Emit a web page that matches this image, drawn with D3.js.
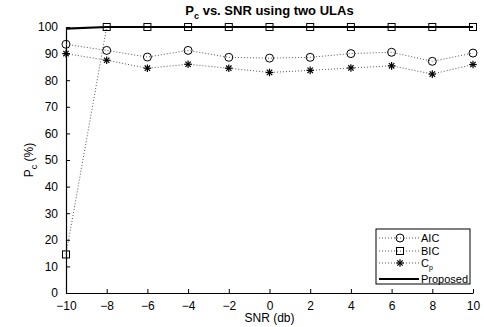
<!DOCTYPE html>
<html>
<head>
<meta charset="utf-8">
<script src="https://cdn.jsdelivr.net/npm/d3@7"></script>
<style>
  body { margin: 0; background: #fff; }
  text { font-family: "Liberation Sans", Arial, sans-serif; }
</style>
</head>
<body>
<div id="chart"></div>
<script>
var width = 484;
var height = 327;
var margin = {top: 27, right: 11, bottom: 34, left: 66};

var snr = [-10, -8, -6, -4, -2, 0, 2, 4, 6, 8, 10];
var aic = [93.5, 91.2, 88.7, 91.2, 88.6, 88.3, 88.6, 90.0, 90.5, 87.1, 90.2];
var bic = [14.5, 100, 100, 100, 100, 100, 100, 100, 100, 100, 100];
var cp = [90.0, 87.5, 84.5, 86.0, 84.5, 82.9, 83.7, 84.6, 85.4, 82.3, 85.9];
var proposed = [99.4, 100, 100, 100, 100, 100, 100, 100, 100, 100, 100];
var xTicks = [-10, -8, -6, -4, -2, 0, 2, 4, 6, 8, 10];
var yTicks = [0, 10, 20, 30, 40, 50, 60, 70, 80, 90, 100];

var svg = d3.select("#chart").append("svg")
  .attr("width", width)
  .attr("height", height);

var x = d3.scaleLinear().domain([-10, 10]).range([margin.left, width - margin.right]);
var y = d3.scaleLinear().domain([0, 100]).range([height - margin.bottom, margin.top]);

// axes, ticks pointing inward like matlab
svg.append("g")
  .attr("transform", "translate(0," + y(0) + ")")
  .call(d3.axisBottom(x).tickValues(xTicks).tickSizeInner(-4).tickSizeOuter(0).tickPadding(8))
  .call(function(g) {
    g.select(".domain").attr("stroke-width", 1.2);
    g.selectAll("text").attr("font-size", 12).attr("fill", "#000");
  });

svg.append("g")
  .attr("transform", "translate(" + x(-10) + ",0)")
  .call(d3.axisLeft(y).tickValues(yTicks).tickSizeInner(-4).tickSizeOuter(0).tickPadding(8))
  .call(function(g) {
    g.select(".domain").attr("stroke-width", 1.2);
    g.selectAll("text").attr("font-size", 12).attr("fill", "#000");
  });

var series = [
  {name: "AIC", values: aic, marker: "circle"},
  {name: "BIC", values: bic, marker: "square"},
  {name: "Cp", values: cp, marker: "star"},
  {name: "Proposed", values: proposed, marker: "none"}
];

var line = d3.line()
  .x(function(d, i) { return x(snr[i]); })
  .y(function(d) { return y(d); });

function drawMarker(g, type, cx, cy) {
  if (type === "circle") {
    g.append("circle").attr("cx", cx).attr("cy", cy).attr("r", 4)
      .attr("fill", "none").attr("stroke", "#000").attr("stroke-width", 1);
  } else if (type === "square") {
    g.append("rect").attr("x", cx - 3.5).attr("y", cy - 3.5).attr("width", 7).attr("height", 7)
      .attr("fill", "none").attr("stroke", "#000").attr("stroke-width", 1);
  } else if (type === "star") {
    var r = 3.8;
    for (var k = 0; k < 4; k++) {
      var a = k * Math.PI / 4;
      g.append("line")
        .attr("x1", cx - r * Math.cos(a)).attr("y1", cy - r * Math.sin(a))
        .attr("x2", cx + r * Math.cos(a)).attr("y2", cy + r * Math.sin(a))
        .attr("stroke", "#000").attr("stroke-width", 1.2);
    }
  }
}

// dotted series first
series.filter(function(s) { return s.marker !== "none"; }).forEach(function(s) {
  svg.append("path")
    .attr("d", line(s.values))
    .attr("fill", "none")
    .attr("stroke", "#555")
    .attr("stroke-width", 1)
    .attr("stroke-dasharray", "1,2");
});

// proposed, thick solid
svg.append("path")
  .attr("d", line(proposed))
  .attr("fill", "none")
  .attr("stroke", "#000")
  .attr("stroke-width", 2.2);

series.forEach(function(s) {
  var g = svg.append("g");
  s.values.forEach(function(v, i) { drawMarker(g, s.marker, x(snr[i]), y(v)); });
});

// title
var title = svg.append("text")
  .attr("x", (margin.left + width - margin.right) / 2)
  .attr("y", 15)
  .attr("text-anchor", "middle")
  .attr("font-size", 13)
  .attr("font-weight", "bold");
title.append("tspan").text("P");
title.append("tspan").attr("dy", 4).attr("font-size", 9).text("c");
title.append("tspan").attr("dy", -4).text(" vs. SNR using two ULAs");

// axis labels
svg.append("text")
  .attr("x", (margin.left + width - margin.right) / 2)
  .attr("y", 322)
  .attr("text-anchor", "middle")
  .attr("font-size", 12)
  .text("SNR (db)");

var yl = svg.append("text")
  .attr("transform", "translate(33," + y(50) + ") rotate(-90)")
  .attr("text-anchor", "middle")
  .attr("font-size", 12);
yl.append("tspan").text("P");
yl.append("tspan").attr("dy", 4).attr("font-size", 9).text("c");
yl.append("tspan").attr("dy", -4).text(" (%)");

// legend
var lg = svg.append("g");
lg.append("rect")
  .attr("x", 376).attr("y", 229).attr("width", 94).attr("height", 55)
  .attr("fill", "#fff").attr("stroke", "#000").attr("stroke-width", 1);
var legendY = [238, 251, 263, 279];
series.forEach(function(s, i) {
  var ly = legendY[i];
  if (s.marker === "none") {
    lg.append("line").attr("x1", 379).attr("x2", 419).attr("y1", ly).attr("y2", ly)
      .attr("stroke", "#000").attr("stroke-width", 2.2);
  } else {
    lg.append("line").attr("x1", 379).attr("x2", 419).attr("y1", ly).attr("y2", ly)
      .attr("stroke", "#555").attr("stroke-width", 1).attr("stroke-dasharray", "1,2");
    drawMarker(lg, s.marker, 400, ly);
  }
  var t = lg.append("text").attr("x", 421).attr("y", ly + 4).attr("font-size", 11);
  if (s.name === "Cp") {
    t.append("tspan").text("C");
    t.append("tspan").attr("dy", 3).attr("font-size", 7).text("p");
  } else {
    t.text(s.name);
  }
});
</script>
</body>
</html>
